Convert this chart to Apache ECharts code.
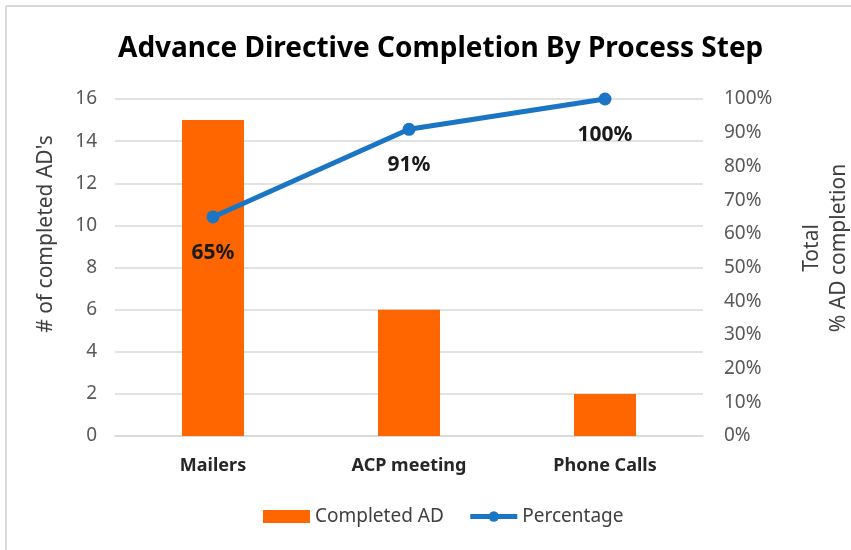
<!DOCTYPE html>
<html>
<head>
<meta charset="utf-8">
<script src="https://cdn.jsdelivr.net/npm/echarts@6/dist/echarts.min.js"></script>
<style>
  html, body { margin: 0; padding: 0; background: #fff; }
  #chart { width: 851px; height: 550px; }
</style>
</head>
<body>
<div id="chart"></div>
<script>
const categories = ['Mailers', 'ACP meeting', 'Phone Calls'];
const completedAD = [15, 6, 2];
const percentage = [0.65, 0.91, 1.0];
const percentLabels = ['65%', '91%', '100%'];

const font = 'Noto Sans';
const chart = echarts.init(document.getElementById('chart'));

chart.setOption({
  animation: false,
  textStyle: { fontFamily: font },
  graphic: [
    // light frame on the top and left edges
    { type: 'line', shape: { x1: 6, y1: 6, x2: 851, y2: 6 }, style: { stroke: '#d9d9d9', lineWidth: 2 } },
    { type: 'line', shape: { x1: 6, y1: 6, x2: 6, y2: 550 }, style: { stroke: '#d9d9d9', lineWidth: 2 } },
    // axis titles
    {
      type: 'text', x: 46, y: 234, rotation: Math.PI / 2,
      style: {
        text: "# of completed AD's", align: 'center', verticalAlign: 'middle',
        font: '21px "Noto Sans"', fill: '#404040'
      }
    },
    {
      type: 'text', x: 826, y: 248, rotation: Math.PI / 2,
      style: {
        text: 'Total\n% AD completion', align: 'center', verticalAlign: 'middle',
        font: '21px "Noto Sans"', lineHeight: 27, fill: '#404040'
      }
    }
  ],
  title: {
    text: 'Advance Directive Completion By Process Step',
    left: 113,
    top: 30,
    textStyle: { fontFamily: font, fontSize: 28, fontWeight: 'bold', color: '#000' }
  },
  grid: { left: 115, right: 148, top: 99, bottom: 114 },
  legend: {
    top: 507,
    left: 263,
    padding: 0,
    itemGap: 24,
    itemWidth: 47,
    itemHeight: 13,
    textStyle: { fontFamily: font, fontSize: 19, color: '#404040' },
    data: [
      { name: 'Completed AD', icon: 'rect' },
      { name: 'Percentage', lineStyle: { width: 5 } }
    ]
  },
  xAxis: {
    type: 'category',
    data: categories,
    axisLine: { lineStyle: { color: '#d9d9d9', width: 1.5 } },
    axisTick: { show: false },
    axisLabel: { margin: 21, fontFamily: font, fontSize: 18, fontWeight: 'bold', color: '#262626' }
  },
  yAxis: [
    {
      type: 'value',
      min: 0, max: 16, interval: 2,
      axisLine: { show: false },
      axisTick: { show: false },
      axisLabel: { margin: 18, fontFamily: font, fontSize: 19, color: '#595959' },
      splitLine: { lineStyle: { color: '#d9d9d9', width: 1.5 } }
    },
    {
      type: 'value',
      min: 0, max: 1, interval: 0.1,
      axisLine: { show: false },
      axisTick: { show: false },
      splitLine: { show: false },
      axisLabel: {
        margin: 21, fontFamily: font, fontSize: 19, color: '#595959',
        formatter: v => Math.round(v * 100) + '%'
      }
    }
  ],
  series: [
    {
      name: 'Completed AD',
      type: 'bar',
      data: completedAD,
      barWidth: 62,
      itemStyle: { color: '#ff6600' }
    },
    {
      name: 'Percentage',
      type: 'line',
      yAxisIndex: 1,
      data: percentage,
      symbol: 'circle',
      symbolSize: 13,
      lineStyle: { color: '#1a75c4', width: 5 },
      itemStyle: { color: '#1a75c4' },
      label: {
        show: true,
        position: 'bottom',
        distance: 19,
        fontFamily: font,
        fontSize: 21,
        fontWeight: 'bold',
        color: '#1a1a1a',
        formatter: p => percentLabels[p.dataIndex]
      }
    }
  ]
});
</script>
</body>
</html>
